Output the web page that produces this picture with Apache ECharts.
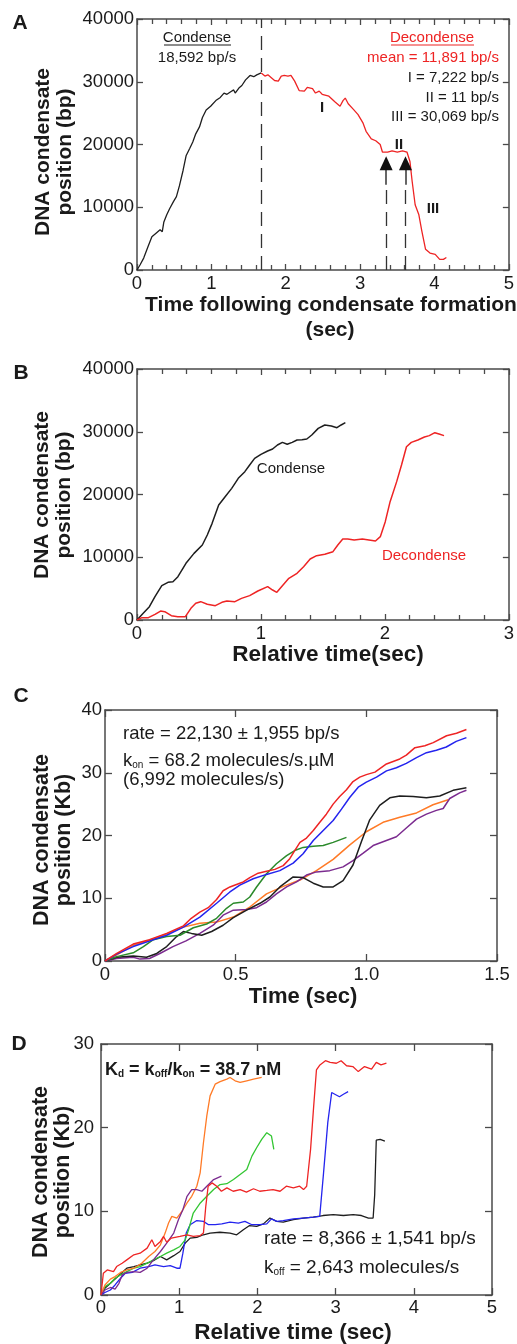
<!DOCTYPE html>
<html>
<head>
<meta charset="utf-8">
<script src="https://cdn.jsdelivr.net/npm/echarts/dist/echarts.min.js"></script>
<style>
html,body{margin:0;padding:0;background:#fff;}
#chart{width:517px;height:1344px;}
</style>
</head>
<body>
<div id="chart"></div>
<script>
// ---------- Panel A ----------
const aCondT = [0, 0.04, 0.09, 0.15, 0.2, 0.26, 0.31, 0.34, 0.36, 0.4, 0.44, 0.49, 0.53, 0.57, 0.62, 0.66, 0.71, 0.75, 0.79, 0.84, 0.88, 0.93, 0.99, 1.06, 1.12, 1.17, 1.21, 1.26, 1.3, 1.32, 1.37, 1.41, 1.46, 1.52, 1.57, 1.61, 1.67];
const aCondY = [0, 800, 1900, 3800, 5300, 5900, 6400, 6100, 7600, 8800, 9800, 10900, 11700, 13400, 15900, 18200, 19400, 20400, 21700, 22800, 24300, 25500, 26100, 27000, 27500, 28200, 28000, 28400, 28700, 28200, 29000, 29400, 30300, 31000, 30800, 31100, 31400];
const aDecT = [1.67, 1.72, 1.76, 1.81, 1.85, 1.9, 1.94, 1.98, 2.03, 2.07, 2.12, 2.18, 2.25, 2.29, 2.36, 2.4, 2.45, 2.49, 2.58, 2.66, 2.73, 2.77, 2.8, 2.84, 2.91, 2.97, 3.04, 3.08, 3.15, 3.21, 3.27, 3.3, 3.37, 3.43, 3.5, 3.57, 3.63, 3.67, 3.7, 3.74, 3.79, 3.83, 3.88, 3.94, 4.01, 4.07, 4.12, 4.16];
const aDecY = [31400, 30900, 31100, 30600, 30200, 30100, 30900, 31000, 30900, 31000, 30100, 28600, 28500, 29100, 28900, 28200, 28500, 28000, 27700, 26800, 26100, 27000, 27400, 26500, 25600, 24800, 23400, 22100, 20900, 20600, 20000, 18800, 18800, 19000, 18800, 19000, 18800, 17300, 14100, 10400, 8800, 6200, 3300, 2700, 2500, 1700, 1700, 2000];
const aSwitchT = 1.67;            // condense -> decondense boundary
const aArrowT = [3.35, 3.61];     // phase II boundaries
const aArrowY = 17000;            // arrow head centre
const aShaftY = [13600, 16000];   // dashed end / solid shaft end

// ---------- Panel B ----------
const bCondT = [0, 0.05, 0.1, 0.145, 0.2, 0.25, 0.29, 0.33, 0.395, 0.46, 0.527, 0.567, 0.606, 0.659, 0.711, 0.764, 0.817, 0.87, 0.909, 0.949, 1.0, 1.054, 1.094, 1.133, 1.173, 1.212, 1.252, 1.291, 1.331, 1.37, 1.41, 1.462, 1.515, 1.568, 1.613, 1.647, 1.681];
const bCondY = [0, 1060, 2120, 3720, 5470, 6000, 6100, 6900, 9030, 10620, 11950, 13550, 15400, 18330, 19650, 20980, 22580, 23640, 24700, 25760, 26400, 26930, 27250, 27890, 28310, 28000, 28310, 28690, 28740, 28840, 29480, 30540, 31080, 30920, 30650, 31080, 31450];
const bDecT = [0, 0.04, 0.092, 0.145, 0.19, 0.224, 0.277, 0.329, 0.39, 0.435, 0.474, 0.514, 0.567, 0.632, 0.685, 0.725, 0.79, 0.843, 0.909, 0.975, 1.054, 1.094, 1.128, 1.173, 1.225, 1.291, 1.344, 1.397, 1.449, 1.515, 1.581, 1.62, 1.66, 1.70, 1.752, 1.818, 1.871, 1.924, 1.963, 2.003, 2.042, 2.095, 2.134, 2.174, 2.213, 2.266, 2.319, 2.358, 2.403, 2.437, 2.477];
const bDecY = [0, 370, 370, 900, 1430, 1330, 690, 530, 530, 1860, 2660, 2920, 2500, 2280, 2820, 3030, 2920, 3450, 3880, 4620, 5310, 4780, 4410, 5470, 6640, 7440, 8500, 9720, 10250, 10470, 10890, 11950, 12910, 12910, 12750, 12910, 12750, 12590, 13280, 15670, 18860, 22050, 24700, 27620, 28310, 28690, 29160, 29380, 29850, 29640, 29380];

// ---------- Panel C (Kb) ----------
const cRedT = [0, 0.045, 0.108, 0.17, 0.236, 0.3, 0.33, 0.363, 0.395, 0.427, 0.452, 0.478, 0.503, 0.529, 0.554, 0.586, 0.618, 0.65, 0.682, 0.707, 0.726, 0.746, 0.771, 0.797, 0.822, 0.847, 0.873, 0.898, 0.924, 0.949, 0.975, 1.0, 1.033, 1.077, 1.128, 1.153, 1.186, 1.224, 1.256, 1.307, 1.345, 1.383];
const cRedY = [0, 1.2, 2.7, 3.4, 4.4, 5.6, 6.8, 7.8, 8.5, 9.8, 11.2, 11.8, 12.2, 12.6, 13.3, 14.0, 14.3, 14.6, 15.2, 16.3, 17.6, 18.9, 19.6, 20.8, 22.1, 23.4, 25.0, 26.2, 27.3, 28.6, 29.3, 29.7, 30.1, 31.4, 32.2, 32.8, 34.0, 34.3, 34.8, 35.9, 36.3, 36.9];
const cBlueT = [0, 0.045, 0.108, 0.17, 0.236, 0.3, 0.363, 0.427, 0.478, 0.516, 0.567, 0.618, 0.669, 0.72, 0.758, 0.797, 0.835, 0.873, 0.905, 0.937, 0.969, 1.0, 1.039, 1.077, 1.115, 1.153, 1.192, 1.23, 1.268, 1.306, 1.344, 1.383];
const cBlueY = [0, 1.1, 2.3, 3.2, 4.1, 5.4, 7.0, 9.2, 11.0, 12.1, 13.1, 13.8, 14.4, 15.6, 17.1, 19.2, 20.8, 22.4, 24.2, 26.1, 27.7, 28.5, 29.3, 30.3, 30.8, 31.5, 32.4, 33.2, 33.6, 34.1, 35.0, 35.6];
const cGreenT = [0, 0.045, 0.108, 0.147, 0.185, 0.236, 0.287, 0.338, 0.389, 0.427, 0.465, 0.491, 0.529, 0.554, 0.58, 0.618, 0.656, 0.695, 0.726, 0.758, 0.797, 0.835, 0.873, 0.924];
const cGreenY = [0, 0.7, 1.3, 2.3, 3.4, 3.9, 4.1, 5.3, 5.9, 6.8, 8.4, 9.2, 9.4, 10.2, 11.8, 13.9, 15.5, 16.8, 17.6, 18.1, 18.3, 18.4, 18.9, 19.7];
const cBlackT = [0, 0.045, 0.108, 0.159, 0.198, 0.236, 0.274, 0.3, 0.331, 0.37, 0.408, 0.452, 0.491, 0.542, 0.593, 0.631, 0.669, 0.72, 0.758, 0.797, 0.835, 0.873, 0.911, 0.949, 0.981, 1.013, 1.051, 1.09, 1.128, 1.179, 1.23, 1.281, 1.332, 1.383];
const cBlackY = [0, 0.6, 0.8, 0.6, 1.2, 2.3, 3.9, 4.7, 4.4, 4.1, 4.7, 5.7, 6.9, 8.1, 9.2, 10.2, 11.8, 13.4, 13.3, 12.4, 11.8, 11.8, 12.8, 15.3, 19.0, 22.5, 24.8, 26.0, 26.3, 26.2, 26.0, 26.3, 27.2, 27.6];
const cOrangeT = [0, 0.045, 0.108, 0.17, 0.236, 0.3, 0.363, 0.427, 0.491, 0.554, 0.618, 0.682, 0.746, 0.809, 0.873, 0.937, 1.0, 1.064, 1.128, 1.192, 1.255, 1.313];
const cOrangeY = [0, 1.0, 2.5, 3.3, 4.3, 5.4, 6.0, 6.2, 7.0, 8.6, 10.7, 11.9, 12.9, 14.4, 16.2, 18.5, 20.6, 22.1, 22.9, 23.6, 24.9, 25.7];
const cPurpleT = [0, 0.045, 0.108, 0.134, 0.17, 0.21, 0.26, 0.31, 0.363, 0.414, 0.452, 0.491, 0.542, 0.58, 0.618, 0.656, 0.695, 0.733, 0.771, 0.809, 0.86, 0.911, 0.949, 0.988, 1.026, 1.064, 1.115, 1.153, 1.192, 1.23, 1.268, 1.294, 1.319, 1.357, 1.383];
const cPurpleY = [0, 0.4, 0.6, 0.3, 0.4, 1.2, 2.3, 3.2, 4.4, 5.7, 7.3, 8.1, 8.2, 8.5, 9.4, 10.7, 11.8, 12.6, 13.7, 14.2, 14.4, 15.0, 16.0, 17.2, 18.4, 19.0, 19.8, 21.2, 22.6, 23.4, 24.0, 24.3, 25.9, 26.8, 27.2];

// ---------- Panel D (Kb) ----------
const dRedT = [0, 0.03, 0.08, 0.16, 0.2, 0.27, 0.33, 0.42, 0.5, 0.59, 0.65, 0.69, 0.76, 0.8, 0.84, 0.9, 1.01, 1.1, 1.18, 1.27, 1.31, 1.34, 1.37, 1.42, 1.48, 1.54, 1.61, 1.69, 1.78, 1.86, 1.95, 2.03, 2.12, 2.2, 2.29, 2.37, 2.46, 2.54, 2.59, 2.63, 2.68, 2.72, 2.755, 2.8, 2.87, 2.93, 3.01, 3.07, 3.14, 3.22, 3.29, 3.37, 3.46, 3.52, 3.58, 3.65];
const dRedY = [0, 2.6, 3.0, 2.8, 3.4, 3.8, 4.2, 4.8, 5.0, 5.6, 6.6, 5.8, 6.4, 7.0, 6.3, 6.8, 7.0, 7.2, 7.0, 7.1, 7.4, 10.6, 13.0, 13.4, 13.0, 12.4, 12.8, 12.4, 12.6, 12.3, 12.7, 12.4, 12.5, 12.6, 12.4, 13.0, 12.8, 13.0, 12.6, 13.0, 17.4, 22.6, 26.9, 27.5, 28.0, 27.8, 27.7, 28.0, 27.4, 27.3, 26.7, 27.3, 27.0, 27.8, 27.5, 27.7];
const dBlueT = [0, 0.05, 0.12, 0.18, 0.25, 0.31, 0.4, 0.5, 0.61, 0.69, 0.8, 0.885, 0.97, 1.01, 1.047, 1.09, 1.14, 1.225, 1.31, 1.375, 1.46, 1.545, 1.65, 1.757, 1.84, 1.93, 2.034, 2.12, 2.18, 2.247, 2.33, 2.46, 2.587, 2.715, 2.797, 2.846, 2.9, 2.95, 2.99, 3.05, 3.1, 3.16];
const dBlueY = [0, 0.3, 0.6, 1.2, 2.0, 2.6, 2.7, 3.2, 3.4, 3.6, 3.4, 3.5, 3.2, 3.2, 5.0, 7.4, 8.4, 8.9, 8.8, 8.4, 8.4, 8.5, 8.7, 8.6, 8.8, 8.4, 8.4, 8.5, 9.1, 8.8, 8.9, 9.1, 9.2, 9.3, 9.4, 14.6, 20.6, 24.2, 24.0, 23.7, 24.0, 24.3];
const dBlackT = [0, 0.05, 0.12, 0.18, 0.25, 0.33, 0.42, 0.5, 0.59, 0.67, 0.76, 0.84, 0.93, 1.01, 1.077, 1.14, 1.225, 1.31, 1.395, 1.52, 1.65, 1.735, 1.82, 1.9, 1.99, 2.077, 2.16, 2.247, 2.33, 2.46, 2.587, 2.715, 2.84, 2.97, 3.1, 3.225, 3.33, 3.42, 3.48, 3.5, 3.52, 3.57, 3.63];
const dBlackY = [0, 0.8, 1.4, 1.9, 2.5, 3.2, 3.4, 3.6, 3.8, 4.1, 4.6, 4.2, 4.7, 5.2, 6.2, 6.8, 6.9, 7.2, 7.4, 7.5, 7.4, 7.2, 7.8, 8.3, 8.2, 8.5, 9.2, 8.8, 8.7, 9.0, 9.2, 9.3, 9.5, 9.6, 9.5, 9.6, 9.5, 9.2, 9.2, 12.0, 18.5, 18.6, 18.4];
const dOrangeT = [0, 0.05, 0.12, 0.18, 0.25, 0.33, 0.42, 0.52, 0.61, 0.69, 0.76, 0.82, 0.864, 0.906, 0.97, 1.034, 1.1, 1.16, 1.225, 1.268, 1.31, 1.353, 1.395, 1.46, 1.523, 1.609, 1.65, 1.715, 1.779, 1.864, 1.95, 2.055];
const dOrangeY = [0, 1.2, 1.9, 2.2, 2.7, 3.0, 3.2, 3.8, 4.6, 5.2, 6.0, 7.4, 8.6, 9.4, 9.2, 10.0, 11.0, 11.8, 13.0, 14.6, 18.2, 21.4, 23.8, 25.2, 25.5, 25.8, 26.0, 25.6, 25.4, 25.6, 25.8, 26.0];
const dGreenT = [0, 0.05, 0.12, 0.18, 0.25, 0.33, 0.42, 0.5, 0.59, 0.67, 0.76, 0.84, 0.93, 1.01, 1.077, 1.12, 1.18, 1.27, 1.353, 1.44, 1.523, 1.609, 1.694, 1.779, 1.864, 1.93, 1.99, 2.055, 2.12, 2.145, 2.18, 2.21];
const dGreenY = [0, 1.0, 1.4, 2.0, 2.4, 2.8, 3.2, 3.4, 3.8, 4.2, 4.6, 5.0, 5.4, 5.8, 6.6, 7.8, 9.8, 11.0, 11.8, 12.6, 13.2, 13.3, 13.8, 14.4, 15.0, 16.6, 17.6, 18.6, 19.4, 19.6, 19.0, 17.4];
const dPurpleT = [0, 0.05, 0.12, 0.18, 0.23, 0.27, 0.33, 0.42, 0.5, 0.59, 0.67, 0.76, 0.84, 0.93, 0.99, 1.047, 1.1, 1.16, 1.225, 1.29, 1.353, 1.44, 1.54];
const dPurpleY = [0, 0.6, 0.9, 0.7, 1.4, 2.4, 2.7, 2.8, 2.7, 3.2, 4.2, 5.2, 6.2, 7.4, 9.0, 10.2, 11.8, 12.6, 12.6, 12.4, 13.0, 13.8, 14.2];

// ---------- tick labels ----------
const bpFmt = v => String(v);
const cxFmt = v => (v === 0 ? '0' : v.toFixed(1));

// ---------- styling ----------
const FONT = "'Liberation Sans', Arial, Helvetica, sans-serif";
const AX = '#4a4a4a';
const RED = '#ee2424', BLUE = '#2424ee', ORANGE = '#ff7a26', PURPLE = '#7b2b8f', BLACK = '#1e1e1e';
const GREEN_C = '#2b8a2b', GREEN_D = '#33c633';

const grids = [
  {left: 137, top: 19, width: 378, height: 251},
  {left: 137, top: 369, width: 379, height: 251},
  {left: 105, top: 710, width: 392, height: 251},
  {left: 101, top: 1044, width: 391, height: 251}
];

function pairs(t, y) { return t.map((v, i) => [v, y[i]]); }

function axisPair(dim, gi, min, max, interval, tlen, minor, fmt, margin) {
  const base = {
    gridIndex: gi, type: 'value', min: min, max: max, interval: interval,
    axisLine: {show: true, onZero: false, lineStyle: {color: AX, width: 1.5}},
    axisTick: {show: true, inside: true, length: tlen, lineStyle: {color: AX, width: 1.3}},
    minorTick: minor ? {show: true, splitNumber: minor, length: 5, lineStyle: {color: AX, width: 1.3}} : {show: false},
    splitLine: {show: false}, minorSplitLine: {show: false}
  };
  const p1 = dim === 'x' ? 'bottom' : 'left';
  const p2 = dim === 'x' ? 'top' : 'right';
  return [
    Object.assign({}, base, {position: p1, axisLabel: {show: true, fontSize: 18.5, fontFamily: FONT, color: '#1a1a1a', margin: margin, formatter: fmt, showMinLabel: true, showMaxLabel: true}}),
    Object.assign({}, base, {position: p2, axisLabel: {show: false}})
  ];
}

const xAxis = [].concat(
  axisPair('x', 0, 0, 5, 1, 6, 5, bpFmt, 4),
  axisPair('x', 1, 0, 3, 1, 6, 5, bpFmt, 4),
  axisPair('x', 2, 0, 1.5, 0.5, 7, 0, cxFmt, 4),
  axisPair('x', 3, 0, 5, 1, 7, 0, bpFmt, 3)
);
const yAxis = [].concat(
  axisPair('y', 0, 0, 40000, 10000, 6, 0, bpFmt, 3),
  axisPair('y', 1, 0, 40000, 10000, 6, 0, bpFmt, 3),
  axisPair('y', 2, 0, 40, 10, 7, 0, bpFmt, 3),
  axisPair('y', 3, 0, 30, 10, 7, 0, bpFmt, 7)
);

function line(gi, t, y, color, width, extra) {
  return Object.assign({
    type: 'line', xAxisIndex: 2 * gi, yAxisIndex: 2 * gi,
    data: pairs(t, y), showSymbol: false, symbol: 'none', smooth: false,
    lineStyle: {color: color, width: width}, silent: true, animation: false
  }, extra || {});
}

const dashStyle = {color: '#333', width: 1.3, type: [14, 8]};
const aMarks = {
  markLine: {
    silent: true, symbol: 'none', label: {show: false}, animation: false,
    lineStyle: dashStyle,
    data: [
      [{coord: [aSwitchT, 0]}, {coord: [aSwitchT, 40000]}],
      [{coord: [aArrowT[0], 0]}, {coord: [aArrowT[0], aShaftY[0]]}],
      [{coord: [aArrowT[1], 0]}, {coord: [aArrowT[1], aShaftY[0]]}],
      [{coord: [aArrowT[0], aShaftY[0]], lineStyle: {type: 'solid', width: 1.5, color: '#333'}}, {coord: [aArrowT[0], aShaftY[1]]}],
      [{coord: [aArrowT[1], aShaftY[0]], lineStyle: {type: 'solid', width: 1.5, color: '#333'}}, {coord: [aArrowT[1], aShaftY[1]]}]
    ]
  },
  markPoint: {
    silent: true, animation: false, symbol: 'triangle', symbolSize: [13, 14],
    itemStyle: {color: '#111'}, label: {show: false},
    data: [{coord: [aArrowT[0], aArrowY]}, {coord: [aArrowT[1], aArrowY]}]
  }
};

const series = [
  line(0, aCondT, aCondY, BLACK, 1.3, aMarks),
  line(0, aDecT, aDecY, RED, 1.3),
  line(1, bCondT, bCondY, BLACK, 1.5),
  line(1, bDecT, bDecY, RED, 1.5),
  line(2, cOrangeT, cOrangeY, ORANGE, 1.5),
  line(2, cPurpleT, cPurpleY, PURPLE, 1.5),
  line(2, cBlackT, cBlackY, BLACK, 1.5),
  line(2, cGreenT, cGreenY, GREEN_C, 1.5),
  line(2, cBlueT, cBlueY, BLUE, 1.5),
  line(2, cRedT, cRedY, RED, 1.5),
  line(3, dBlackT, dBlackY, BLACK, 1.3),
  line(3, dBlueT, dBlueY, BLUE, 1.3),
  line(3, dGreenT, dGreenY, GREEN_D, 1.3),
  line(3, dOrangeT, dOrangeY, ORANGE, 1.3),
  line(3, dPurpleT, dPurpleY, PURPLE, 1.3),
  line(3, dRedT, dRedY, RED, 1.3)
];

function txt(x, y, text, size, opts) {
  const o = opts || {};
  return {
    type: 'text', x: x, y: y, rotation: o.rot || 0, silent: true, z: 100,
    style: {
      text: text, fontSize: size, fontFamily: FONT, fontWeight: o.bold ? 'bold' : 'normal',
      fill: o.color || '#1a1a1a', align: o.align || 'center', textAlign: o.align || 'center',
      verticalAlign: 'middle', textVerticalAlign: 'middle', lineHeight: o.lh || size * 1.15,
      rich: o.rich
    }
  };
}
function uline(x1, x2, y, color) {
  return {type: 'line', silent: true, z: 100, shape: {x1: x1, y1: y, x2: x2, y2: y}, style: {stroke: color, lineWidth: 1.2}};
}

const subRich = (size, sub, bold) => ({
  m: {fontSize: size, fontFamily: FONT, fontWeight: bold ? 'bold' : 'normal', fill: '#1a1a1a', lineHeight: size + 6, verticalAlign: 'bottom'},
  s: {fontSize: sub, fontFamily: FONT, fontWeight: bold ? 'bold' : 'normal', fill: '#1a1a1a', lineHeight: sub, verticalAlign: 'bottom'}
});

const graphics = [
  // panel letters
  txt(20, 23, 'A', 21, {bold: true}),
  txt(21, 373, 'B', 21, {bold: true}),
  txt(21, 696, 'C', 21, {bold: true}),
  txt(19, 1044, 'D', 21, {bold: true}),
  // y titles
  txt(54, 152, 'DNA condensate\nposition (bp)', 21, {bold: true, rot: Math.PI / 2, lh: 22}),
  txt(53, 495, 'DNA condensate\nposition (bp)', 21, {bold: true, rot: Math.PI / 2, lh: 22}),
  txt(53, 840, 'DNA condensate\nposition (Kb)', 21.5, {bold: true, rot: Math.PI / 2, lh: 22}),
  txt(52, 1172, 'DNA condensate\nposition (Kb)', 21.5, {bold: true, rot: Math.PI / 2, lh: 22}),
  // x titles
  txt(331, 305, 'Time following condensate formation', 21, {bold: true}),
  txt(330, 330, '(sec)', 21, {bold: true}),
  txt(328, 655, 'Relative time(sec)', 22.5, {bold: true}),
  txt(303, 997, 'Time (sec)', 22, {bold: true}),
  txt(293, 1333, 'Relative time (sec)', 22.5, {bold: true}),
  // panel A annotations
  txt(197, 38, 'Condense', 15),
  uline(164, 231, 45, '#1a1a1a'),
  txt(197, 58, '18,592 bp/s', 15),
  txt(432, 38, 'Decondense', 15, {color: RED}),
  uline(391, 474, 45, RED),
  txt(499, 58, 'mean = 11,891 bp/s', 15, {color: RED, align: 'right'}),
  txt(499, 78, 'I = 7,222 bp/s', 15, {align: 'right'}),
  txt(499, 98, 'II = 11 bp/s', 15, {align: 'right'}),
  txt(499, 117, 'III = 30,069 bp/s', 15, {align: 'right'}),
  txt(322, 108, 'I', 15, {bold: true}),
  txt(399, 145, 'II', 15, {bold: true}),
  txt(433, 209, 'III', 15, {bold: true}),
  // panel B annotations
  txt(291, 469, 'Condense', 15),
  txt(424, 556, 'Decondense', 15, {color: RED}),
  // panel C annotations
  txt(123, 734, 'rate = 22,130 \u00b1 1,955 bp/s', 18.5, {align: 'left'}),
  txt(123, 758, '{m|k}{s|on}{m| = 68.2 molecules/s.\u00b5M}', 18.5, {align: 'left', rich: subRich(18.5, 10)}),
  txt(123, 780, '(6,992 molecules/s)', 18.5, {align: 'left'}),
  // panel D annotations
  txt(105, 1067, '{m|K}{s|d}{m| = k}{s|off}{m|/k}{s|on}{m| = 38.7 nM}', 18, {align: 'left', bold: true, rich: subRich(18, 10, true)}),
  txt(264, 1239, 'rate = 8,366 \u00b1 1,541 bp/s', 19, {align: 'left'}),
  txt(264, 1265, '{m|k}{s|off}{m| = 2,643 molecules/s}', 19, {align: 'left', rich: subRich(19, 10)})
];

const chart = echarts.init(document.getElementById('chart'), null, {renderer: 'canvas'});
chart.setOption({
  animation: false,
  backgroundColor: '#ffffff',
  textStyle: {fontFamily: FONT},
  grid: grids,
  xAxis: xAxis,
  yAxis: yAxis,
  series: series,
  graphic: graphics
});
</script>
</body>
</html>
